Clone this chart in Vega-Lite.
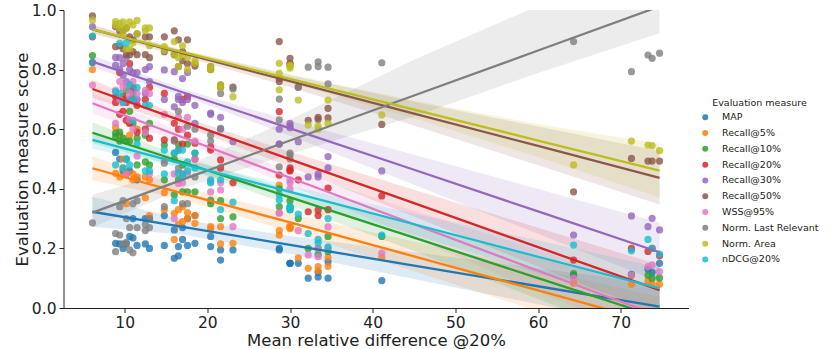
{
  "$schema": "https://vega.github.io/schema/vega-lite/v6.json",
  "autosize": {"type": "none"},
  "padding": {"left": 63.5, "top": 10, "right": 141.5, "bottom": 41},
  "width": 625,
  "height": 298,
  "config": {
    "view": {"stroke": null},
    "font": "DejaVu Sans",
    "axis": {
      "grid": false,
      "domainColor": "#222",
      "tickColor": "#222",
      "labelColor": "#222",
      "titleColor": "#222",
      "domainWidth": 1,
      "tickWidth": 1,
      "tickSize": 4.5,
      "labelFontSize": 15.5,
      "titleFontSize": 16.5,
      "titleFontWeight": "normal",
      "labelPadding": 3,
      "labelFlush": false
    }
  },
  "datasets": {
    "pts": [
      {"x":6.1,"m0":0.824,"m1":0.80,"m2":0.847,"m3":0.91,"m4":0.944,"m5":0.98,"m6":0.748,"m7":0.286,"m8":0.966,"m9":0.912},
      {"x":8.9,"m0":0.522,"m1":0.605,"m2":0.587,"m3":0.709,"m4":0.841,"m5":0.944,"m6":0.73,"m7":0.25,"m8":0.961,"m9":0.726},
      {"x":8.9,"m0":0.217,"m1":0.452,"m2":0.575,"m3":0.69,"m4":0.815,"m5":0.877,"m6":0.62,"m7":0.189,"m8":0.95,"m9":0.48},
      {"x":9.4,"m0":0.215,"m1":0.44,"m2":0.59,"m3":0.79,"m4":0.84,"m5":0.93,"m6":0.76,"m7":0.245,"m8":0.955,"m9":0.888},
      {"x":9.4,"m0":0.5,"m1":0.58,"m2":0.56,"m3":0.65,"m4":0.8,"m5":0.88,"m6":0.7,"m7":0.34,"m8":0.94,"m9":0.72},
      {"x":9.8,"m0":0.2,"m1":0.5,"m2":0.57,"m3":0.71,"m4":0.82,"m5":0.93,"m6":0.69,"m7":0.215,"m8":0.96,"m9":0.47},
      {"x":9.8,"m0":0.46,"m1":0.47,"m2":0.7,"m3":0.66,"m4":0.78,"m5":0.87,"m6":0.74,"m7":0.36,"m8":0.92,"m9":0.69},
      {"x":10.2,"m0":0.215,"m1":0.45,"m2":0.73,"m3":0.63,"m4":0.76,"m5":0.94,"m6":0.75,"m7":0.3,"m8":0.94,"m9":0.5},
      {"x":10.2,"m0":0.5,"m1":0.35,"m2":0.56,"m3":0.69,"m4":0.84,"m5":0.85,"m6":0.45,"m7":0.22,"m8":0.87,"m9":0.89},
      {"x":10.6,"m0":0.24,"m1":0.62,"m2":0.66,"m3":0.82,"m4":0.8,"m5":0.91,"m6":0.72,"m7":0.27,"m8":0.96,"m9":0.75},
      {"x":10.6,"m0":0.46,"m1":0.58,"m2":0.56,"m3":0.62,"m4":0.7,"m5":0.85,"m6":0.63,"m7":0.195,"m8":0.87,"m9":0.48},
      {"x":11.0,"m0":0.235,"m1":0.45,"m2":0.72,"m3":0.7,"m4":0.79,"m5":0.9,"m6":0.76,"m7":0.185,"m8":0.95,"m9":0.7},
      {"x":11.0,"m0":0.3,"m1":0.43,"m2":0.62,"m3":0.74,"m4":0.73,"m5":0.86,"m6":0.6,"m7":0.35,"m8":0.89,"m9":0.63},
      {"x":11.5,"m0":0.21,"m1":0.44,"m2":0.57,"m3":0.68,"m4":0.79,"m5":0.85,"m6":0.72,"m7":0.36,"m8":0.965,"m9":0.74},
      {"x":11.5,"m0":0.43,"m1":0.6,"m2":0.48,"m3":0.59,"m4":0.7,"m5":0.92,"m6":0.51,"m7":0.27,"m8":0.92,"m9":0.55},
      {"x":12.5,"m0":0.215,"m1":0.37,"m2":0.58,"m3":0.7,"m4":0.8,"m5":0.91,"m6":0.73,"m7":0.28,"m8":0.93,"m9":0.68},
      {"x":12.5,"m0":0.3,"m1":0.44,"m2":0.49,"m3":0.6,"m4":0.72,"m5":0.85,"m6":0.59,"m7":0.26,"m8":0.94,"m9":0.46},
      {"x":13.0,"m0":0.2,"m1":0.43,"m2":0.62,"m3":0.74,"m4":0.81,"m5":0.84,"m6":0.72,"m7":0.3,"m8":0.94,"m9":0.68},
      {"x":13.0,"m0":0.3,"m1":0.31,"m2":0.48,"m3":0.57,"m4":0.76,"m5":0.91,"m6":0.45,"m7":0.27,"m8":0.88,"m9":0.46},
      {"x":14.8,"m0":0.21,"m1":0.387,"m2":0.547,"m3":0.564,"m4":0.799,"m5":0.91,"m6":0.496,"m7":0.486,"m8":0.877,"m9":0.53},
      {"x":14.8,"m0":0.31,"m1":0.33,"m2":0.43,"m3":0.72,"m4":0.7,"m5":0.86,"m6":0.65,"m7":0.34,"m8":0.865,"m9":0.45},
      {"x":16.0,"m0":0.262,"m1":0.318,"m2":0.38,"m3":0.564,"m4":0.675,"m5":0.93,"m6":0.45,"m7":0.56,"m8":0.894,"m9":0.52},
      {"x":16.0,"m0":0.167,"m1":0.23,"m2":0.5,"m3":0.62,"m4":0.793,"m5":0.85,"m6":0.3,"m7":0.52,"m8":0.85,"m9":0.36},
      {"x":16.5,"m0":0.206,"m1":0.28,"m2":0.43,"m3":0.6,"m4":0.7,"m5":0.9,"m6":0.418,"m7":0.468,"m8":0.84,"m9":0.452},
      {"x":16.5,"m0":0.175,"m1":0.33,"m2":0.55,"m3":0.53,"m4":0.71,"m5":0.81,"m6":0.64,"m7":0.66,"m8":0.81,"m9":0.53},
      {"x":17.0,"m0":0.23,"m1":0.34,"m2":0.39,"m3":0.55,"m4":0.69,"m5":0.86,"m6":0.42,"m7":0.35,"m8":0.85,"m9":0.44},
      {"x":17.0,"m0":0.27,"m1":0.29,"m2":0.48,"m3":0.7,"m4":0.77,"m5":0.83,"m6":0.6,"m7":0.45,"m8":0.88,"m9":0.53},
      {"x":17.6,"m0":0.21,"m1":0.3,"m2":0.39,"m3":0.71,"m4":0.79,"m5":0.9,"m6":0.64,"m7":0.61,"m8":0.84,"m9":0.49},
      {"x":17.6,"m0":0.3,"m1":0.32,"m2":0.55,"m3":0.58,"m4":0.7,"m5":0.82,"m6":0.45,"m7":0.35,"m8":0.8,"m9":0.46},
      {"x":18.5,"m0":0.217,"m1":0.284,"m2":0.39,"m3":0.553,"m4":0.68,"m5":0.812,"m6":0.5,"m7":0.6,"m8":0.821,"m9":0.52},
      {"x":18.5,"m0":0.31,"m1":0.31,"m2":0.52,"m3":0.5,"m4":0.62,"m5":0.82,"m6":0.56,"m7":0.44,"m8":0.83,"m9":0.47},
      {"x":20.4,"m0":0.206,"m1":0.273,"m2":0.362,"m3":0.541,"m4":0.654,"m5":0.81,"m6":0.424,"m7":0.58,"m8":0.81,"m9":0.43},
      {"x":20.4,"m0":0.24,"m1":0.265,"m2":0.35,"m3":0.53,"m4":0.65,"m5":0.8,"m6":0.39,"m7":0.56,"m8":0.8,"m9":0.42},
      {"x":21.6,"m0":0.195,"m1":0.273,"m2":0.36,"m3":0.497,"m4":0.64,"m5":0.748,"m6":0.396,"m7":0.72,"m8":0.74,"m9":0.33},
      {"x":21.6,"m0":0.161,"m1":0.215,"m2":0.3,"m3":0.47,"m4":0.6,"m5":0.74,"m6":0.42,"m7":0.603,"m8":0.75,"m9":0.43},
      {"x":23.1,"m0":0.195,"m1":0.217,"m2":0.306,"m3":0.42,"m4":0.558,"m5":0.741,"m6":0.273,"m7":0.735,"m8":0.709,"m9":0.355},
      {"x":28.7,"m0":0.195,"m1":0.412,"m2":0.34,"m3":0.659,"m4":0.6,"m5":0.894,"m6":0.318,"m7":0.701,"m8":0.821,"m9":0.362},
      {"x":28.7,"m0":0.2,"m1":0.245,"m2":0.4,"m3":0.446,"m4":0.55,"m5":0.77,"m6":0.32,"m7":0.631,"m8":0.787,"m9":0.38},
      {"x":28.7,"m1":0.26,"m4":0.55,"m5":0.76,"m7":0.474,"m8":0.732},
      {"x":30.0,"m0":0.15,"m1":0.267,"m2":0.36,"m3":0.463,"m4":0.611,"m5":0.838,"m6":0.42,"m7":0.513,"m8":0.81,"m9":0.335},
      {"x":30.0,"m0":0.15,"m1":0.275,"m2":0.34,"m3":0.47,"m4":0.605,"m5":0.82,"m6":0.4,"m7":0.52,"m8":0.815,"m9":0.34},
      {"x":30.0,"m0":0.15,"m1":0.27,"m2":0.33,"m3":0.46,"m4":0.62,"m5":0.82,"m6":0.43,"m7":0.5,"m8":0.805,"m9":0.33},
      {"x":31.0,"m0":0.15,"m1":0.168,"m2":0.3,"m3":0.43,"m4":0.558,"m5":0.742,"m6":0.26,"m7":0.74,"m8":0.698,"m9":0.315},
      {"x":32.2,"m0":0.1,"m1":0.133,"m2":0.2,"m3":0.323,"m4":0.44,"m5":0.63,"m6":0.178,"m7":0.808,"m8":0.614,"m9":0.25},
      {"x":33.4,"m0":0.104,"m1":0.139,"m2":0.2,"m3":0.329,"m4":0.44,"m5":0.633,"m6":0.172,"m7":0.826,"m8":0.61,"m9":0.219},
      {"x":33.4,"m0":0.12,"m1":0.125,"m2":0.18,"m3":0.31,"m4":0.45,"m5":0.64,"m6":0.2,"m7":0.81,"m8":0.6,"m9":0.23},
      {"x":34.6,"m0":0.155,"m1":0.17,"m2":0.24,"m3":0.402,"m4":0.508,"m5":0.638,"m6":0.272,"m7":0.808,"m8":0.698,"m9":0.3},
      {"x":34.6,"m0":0.1,"m1":0.14,"m2":0.19,"m3":0.33,"m4":0.47,"m5":0.67,"m6":0.2,"m7":0.752,"m8":0.62,"m9":0.205},
      {"x":41.1,"m0":0.092,"m1":0.17,"m2":0.24,"m3":0.376,"m4":0.46,"m5":0.616,"m6":0.184,"m7":0.823,"m8":0.648,"m9":0.245},
      {"x":64.3,"m0":0.11,"m1":0.083,"m2":0.115,"m3":0.161,"m4":0.245,"m5":0.39,"m6":0.1,"m7":0.894,"m8":0.48,"m9":0.211},
      {"x":71.3,"m0":0.113,"m1":0.08,"m2":0.11,"m3":0.2,"m4":0.309,"m5":0.502,"m6":0.11,"m7":0.793,"m8":0.56,"m9":0.192},
      {"x":73.3,"m0":0.13,"m1":0.091,"m2":0.11,"m3":0.19,"m4":0.273,"m5":0.493,"m6":0.139,"m7":0.849,"m8":0.547,"m9":0.23},
      {"x":73.8,"m0":0.12,"m1":0.08,"m2":0.1,"m3":0.2,"m4":0.301,"m5":0.493,"m6":0.145,"m7":0.838,"m8":0.545,"m9":0.2},
      {"x":74.7,"m0":0.15,"m1":0.08,"m2":0.101,"m3":0.175,"m4":0.262,"m5":0.493,"m6":0.122,"m7":0.855,"m8":0.528,"m9":0.181}
    ],
    "fit": [
      {"k":"m0","x":6.1,"fit":0.323,"lo":0.273,"hi":0.373},{"k":"m0","x":17,"fit":0.272,"lo":0.247,"hi":0.297},{"k":"m0","x":30,"fit":0.212,"lo":0.182,"hi":0.242},{"k":"m0","x":45,"fit":0.142,"lo":0.097,"hi":0.187},{"k":"m0","x":60,"fit":0.073,"lo":0.013,"hi":0.133},{"k":"m0","x":74.7,"fit":0.005,"lo":-0.07,"hi":0.08},
      {"k":"m1","x":6.1,"fit":0.469,"lo":0.429,"hi":0.509},{"k":"m1","x":17,"fit":0.385,"lo":0.365,"hi":0.405},{"k":"m1","x":30,"fit":0.287,"lo":0.257,"hi":0.317},{"k":"m1","x":45,"fit":0.173,"lo":0.123,"hi":0.223},{"k":"m1","x":60,"fit":0.059,"lo":-0.011,"hi":0.129},{"k":"m1","x":74.7,"fit":-0.053,"lo":-0.143,"hi":0.037},
      {"k":"m2","x":6.1,"fit":0.588,"lo":0.553,"hi":0.623},{"k":"m2","x":17,"fit":0.489,"lo":0.471,"hi":0.507},{"k":"m2","x":30,"fit":0.371,"lo":0.346,"hi":0.396},{"k":"m2","x":45,"fit":0.236,"lo":0.191,"hi":0.281},{"k":"m2","x":60,"fit":0.1,"lo":0.03,"hi":0.17},{"k":"m2","x":74.7,"fit":-0.032,"lo":-0.122,"hi":0.058},
      {"k":"m3","x":6.1,"fit":0.735,"lo":0.705,"hi":0.765},{"k":"m3","x":17,"fit":0.627,"lo":0.612,"hi":0.642},{"k":"m3","x":30,"fit":0.499,"lo":0.474,"hi":0.524},{"k":"m3","x":45,"fit":0.352,"lo":0.307,"hi":0.397},{"k":"m3","x":60,"fit":0.204,"lo":0.139,"hi":0.269},{"k":"m3","x":74.7,"fit":0.06,"lo":-0.025,"hi":0.145},
      {"k":"m4","x":6.1,"fit":0.827,"lo":0.807,"hi":0.847},{"k":"m4","x":17,"fit":0.724,"lo":0.712,"hi":0.736},{"k":"m4","x":30,"fit":0.603,"lo":0.578,"hi":0.628},{"k":"m4","x":45,"fit":0.464,"lo":0.414,"hi":0.514},{"k":"m4","x":60,"fit":0.324,"lo":0.249,"hi":0.399},{"k":"m4","x":74.7,"fit":0.187,"lo":0.087,"hi":0.287},
      {"k":"m5","x":6.1,"fit":0.935,"lo":0.92,"hi":0.95},{"k":"m5","x":17,"fit":0.855,"lo":0.845,"hi":0.865},{"k":"m5","x":30,"fit":0.761,"lo":0.741,"hi":0.781},{"k":"m5","x":45,"fit":0.652,"lo":0.612,"hi":0.692},{"k":"m5","x":60,"fit":0.544,"lo":0.479,"hi":0.609},{"k":"m5","x":74.7,"fit":0.437,"lo":0.347,"hi":0.527},
      {"k":"m6","x":6.1,"fit":0.687,"lo":0.652,"hi":0.722},{"k":"m6","x":17,"fit":0.573,"lo":0.558,"hi":0.588},{"k":"m6","x":30,"fit":0.437,"lo":0.412,"hi":0.462},{"k":"m6","x":45,"fit":0.281,"lo":0.236,"hi":0.326},{"k":"m6","x":60,"fit":0.125,"lo":0.055,"hi":0.195},{"k":"m6","x":74.7,"fit":-0.027,"lo":-0.117,"hi":0.063},
      {"k":"m7","x":6.1,"fit":0.32,"lo":0.27,"hi":0.38},{"k":"m7","x":17,"fit":0.431,"lo":0.401,"hi":0.471},{"k":"m7","x":30,"fit":0.562,"lo":0.517,"hi":0.632},{"k":"m7","x":45,"fit":0.713,"lo":0.643,"hi":0.833},{"k":"m7","x":60,"fit":0.864,"lo":0.789,"hi":1.014},{"k":"m7","x":74.7,"fit":1.012,"lo":0.922,"hi":1.192},
      {"k":"m8","x":6.1,"fit":0.935,"lo":0.923,"hi":0.947},{"k":"m8","x":17,"fit":0.859,"lo":0.851,"hi":0.867},{"k":"m8","x":30,"fit":0.769,"lo":0.754,"hi":0.784},{"k":"m8","x":45,"fit":0.666,"lo":0.636,"hi":0.696},{"k":"m8","x":60,"fit":0.562,"lo":0.507,"hi":0.617},{"k":"m8","x":74.7,"fit":0.461,"lo":0.371,"hi":0.551},
      {"k":"m9","x":6.1,"fit":0.564,"lo":0.534,"hi":0.594},{"k":"m9","x":17,"fit":0.484,"lo":0.469,"hi":0.499},{"k":"m9","x":30,"fit":0.39,"lo":0.37,"hi":0.41},{"k":"m9","x":45,"fit":0.281,"lo":0.246,"hi":0.316},{"k":"m9","x":60,"fit":0.172,"lo":0.117,"hi":0.227},{"k":"m9","x":74.7,"fit":0.066,"lo":-0.004,"hi":0.136}
    ]
  },
  "resolve": {"legend": {"color": "independent"}},
  "layer": [
    {
      "data": {"name": "fit"},
      "mark": {"type": "area", "opacity": 0.15, "clip": true},
      "encoding": {
        "x": {"field": "x", "type": "quantitative", "scale": {"domain": [2.6, 78.2], "nice": false, "zero": false},
              "axis": {"values": [10, 20, 30, 40, 50, 60, 70], "title": "Mean relative difference @20%", "titlePadding": 1}},
        "y": {"field": "lo", "type": "quantitative", "scale": {"domain": [0, 1], "nice": false},
              "axis": {"values": [0, 0.2, 0.4, 0.6, 0.8, 1.0], "format": ".1f", "title": "Evaluation measure score", "titlePadding": 1}},
        "y2": {"field": "hi"},
        "color": {"field": "k", "type": "nominal",
                  "scale": {"domain": ["m0","m1","m2","m3","m4","m5","m6","m7","m8","m9"],
                            "range": ["#1f77b4","#ff7f0e","#2ca02c","#d62728","#9467bd","#8c564b","#e377c2","#7f7f7f","#bcbd22","#17becf"]},
                  "legend": null}
      }
    },
    {
      "data": {"name": "pts"},
      "transform": [{"fold": ["m0","m1","m2","m3","m4","m5","m6","m7","m8","m9"], "as": ["k", "y"]}],
      "mark": {"type": "circle", "size": 52, "opacity": 0.8, "clip": true},
      "encoding": {
        "x": {"field": "x", "type": "quantitative"},
        "y": {"field": "y", "type": "quantitative"},
        "order": {"field": "k", "sort": "ascending"},
        "color": {"field": "k", "type": "nominal",
                  "legend": {
                    "title": "Evaluation measure",
                    "orient": "none",
                    "legendX": 637,
                    "legendY": 88,
                    "titleAnchor": "middle",
                    "titleFontSize": 9.5,
                    "titleFontWeight": "normal",
                    "titleColor": "#222",
                    "titlePadding": 5,
                    "labelFontSize": 9.5,
                    "labelColor": "#222",
                    "labelOffset": 12,
                    "symbolType": "circle",
                    "symbolSize": 36,
                    "symbolOpacity": 0.85,
                    "rowPadding": 4.8,
                    "labelExpr": "['MAP','Recall@5%','Recall@10%','Recall@20%','Recall@30%','Recall@50%','WSS@95%','Norm. Last Relevant','Norm. Area','nDCG@20%'][toNumber(substring(datum.label,1))]"
                  }}
      }
    },
    {
      "data": {"name": "fit"},
      "mark": {"type": "line", "strokeWidth": 2.3, "clip": true},
      "encoding": {
        "x": {"field": "x", "type": "quantitative"},
        "y": {"field": "fit", "type": "quantitative"},
        "color": {"field": "k", "type": "nominal", "legend": null}
      }
    }
  ]
}
